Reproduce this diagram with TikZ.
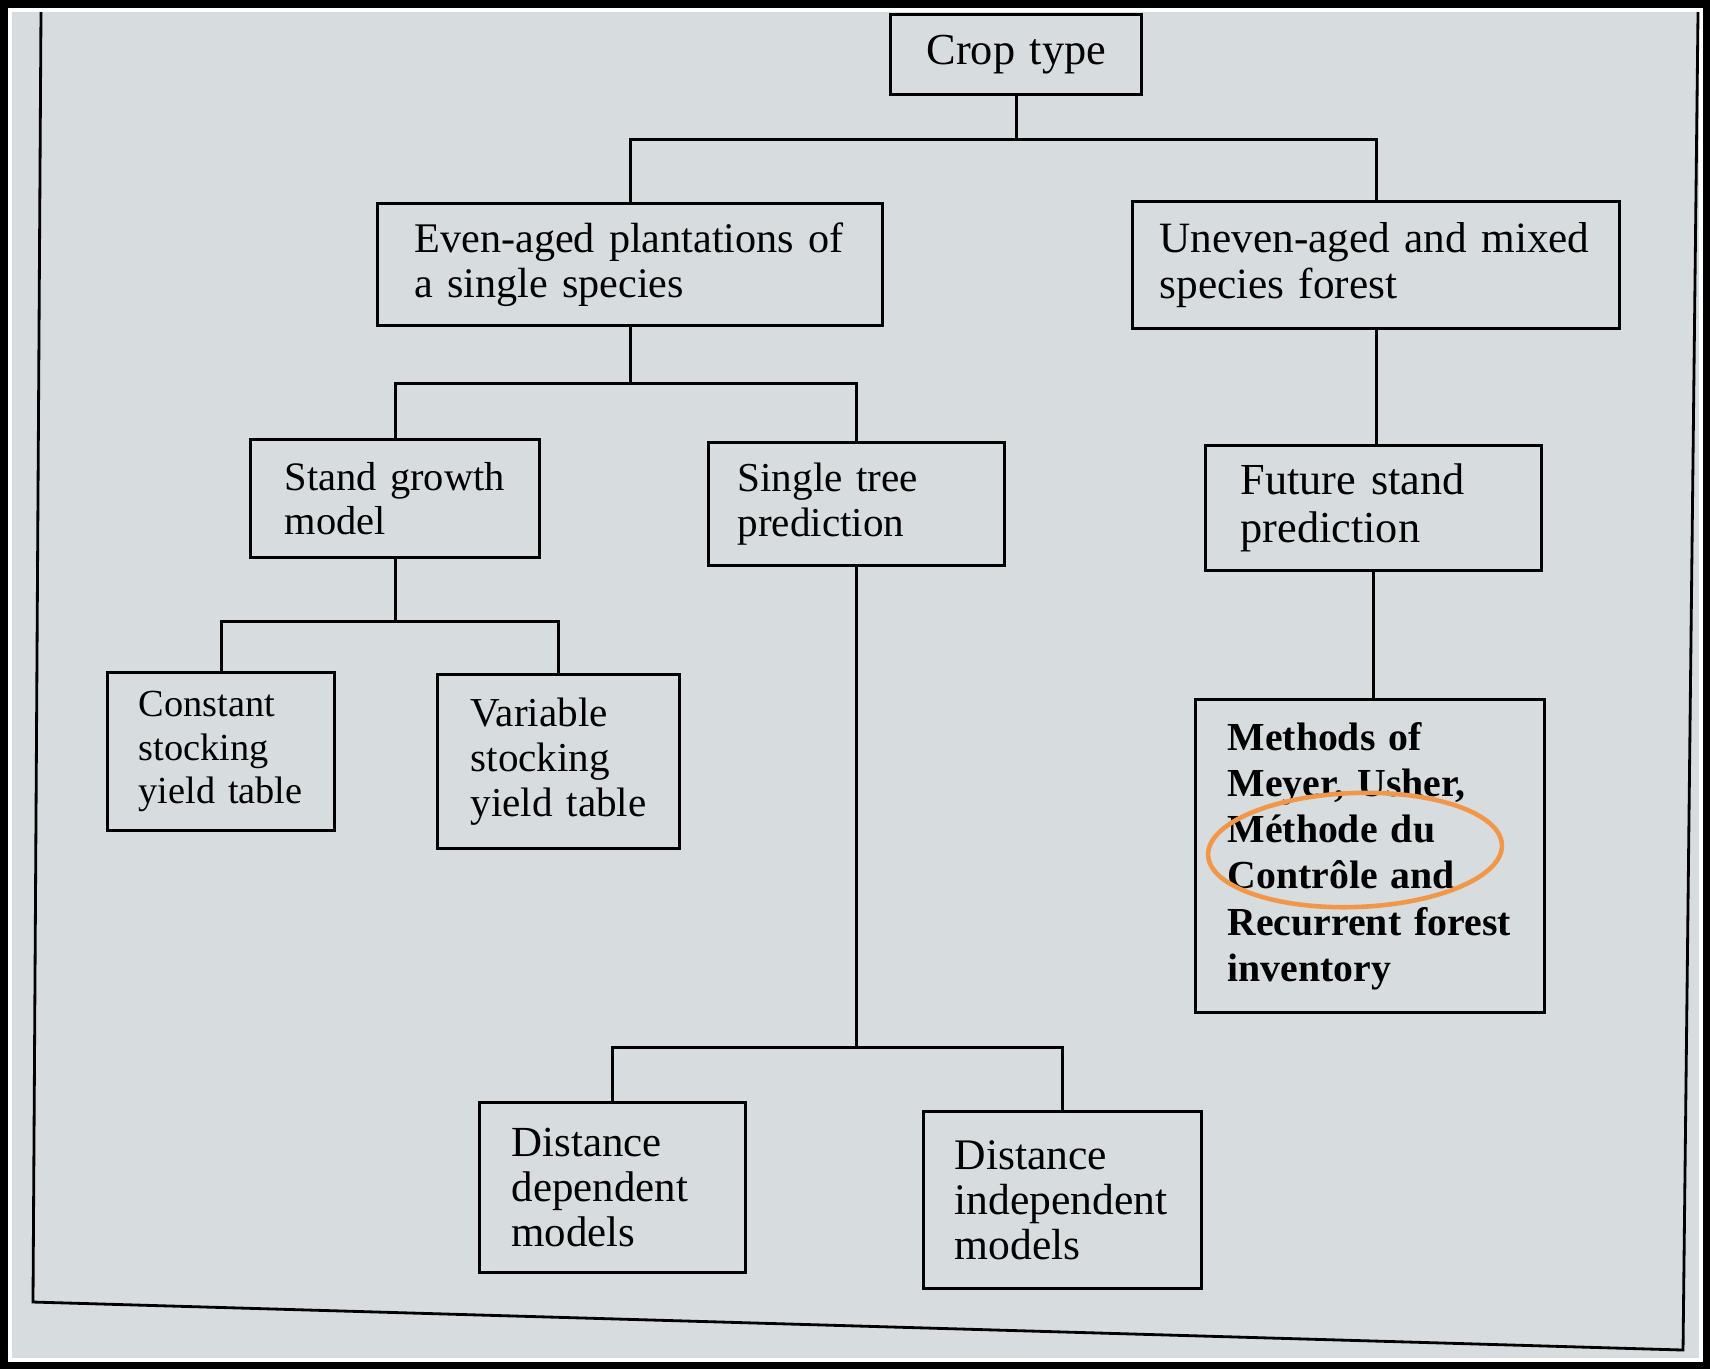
\documentclass[tikz,border=0pt]{standalone}
\usepackage{fontspec}
\setmainfont{Liberation Serif}
\definecolor{paper}{RGB}{215,220,222}
\definecolor{ring}{RGB}{242,150,72}
\hyphenpenalty=10000
\exhyphenpenalty=10000
\tikzset{box/.style 2 args={draw, line width=0.9pt, anchor=north west, align=left,
  inner ysep=0pt, font=\fontsize{#1}{#2}\selectfont},
  link/.style={line width=0.9pt}}

\begin{document}
\begin{tikzpicture}[x=0.01cm,y=-0.01cm]
% photo border and page
\fill [black] (0,0) rectangle (1710,1369);
\fill [white] (8,8) rectangle (1703,1362);
\fill [paper] (12,12) rectangle (1699,1358);
\draw [line width=0.8pt] (41,12) -- (33,1302) -- (1683,1350) -- (1698,12);

% boxes
\node [box={12.6}{13.5}, inner xsep=0.36cm, minimum height=0.80cm, text width=1.79cm] (crop) at (889,13) {Crop~type};
\node [box={12}{12.6}, inner xsep=0.37cm, minimum height=1.22cm, text width=4.31cm] (even) at (376,202) {Even-aged~plantations~of\\a~single~species};
\node [box={12.3}{13.2}, inner xsep=0.27cm, minimum height=1.27cm, text width=4.33cm] (uneven) at (1131,200) {Uneven-aged~and~mixed\\species~forest};
\node [box={11.5}{12.3}, inner xsep=0.34cm, minimum height=1.18cm, text width=2.21cm] (stand) at (249,438) {Stand~growth\\model};
\node [box={11.7}{13}, inner xsep=0.29cm, minimum height=1.23cm, text width=2.38cm] (single) at (707,441) {Single~tree\\prediction};
\node [box={12.6}{13.6}, inner xsep=0.35cm, minimum height=1.25cm, text width=2.66cm] (future) at (1204,444) {Future~stand\\prediction};
\node [box={10.9}{12.4}, inner xsep=0.31cm, minimum height=1.58cm, text width=1.65cm] (constant) at (106,671) {Constant\\stocking\\yield~table};
\node [box={11.7}{12.8}, inner xsep=0.33cm, minimum height=1.74cm, text width=1.76cm] (variable) at (436,673) {Variable\\stocking\\yield~table};
\node [box={11.3}{13.1}, inner xsep=0.32cm, minimum height=3.13cm, text width=2.85cm] (methods) at (1194,698)
  {\bfseries Methods~of\\Meyer,~Usher,\\Méthode~du\\Contrôle~and\\Recurrent~forest\\inventory};
\node [box={12.2}{12.8}, inner xsep=0.32cm, minimum height=1.70cm, text width=2.02cm] (distdep) at (478,1101) {Distance\\dependent\\models};
\node [box={12.4}{12.9}, inner xsep=0.31cm, minimum height=1.77cm, text width=2.16cm] (distind) at (922,1110) {Distance\\independent\\models};

% connectors
\path (crop.south) ++(0,43) coordinate (fork1);
\path (even.south) ++(0,56) coordinate (fork2);
\path (stand.south) ++(0,62) coordinate (fork3);
\path (single.south) ++(0,480) coordinate (fork4);
\draw [link] (crop.south) -- (fork1);
\draw [link] (even.north) |- (fork1) -| (uneven.north);
\draw [link] (even.south) -- (fork2);
\draw [link] (stand.north) |- (fork2) -| (single.north);
\draw [link] (stand.south) -- (fork3);
\draw [link] (constant.north) |- (fork3) -| (variable.north);
\draw [link] (single.south) -- (fork4);
\draw [link] (distdep.north) |- (fork4) -| (distind.north);
\draw [link] (uneven.south) -- (uneven.south |- future.north);
\draw [link] (future.south) -- (future.south |- methods.north);

% highlight
\draw [ring, line width=1.3pt, rotate around={2:(1355,850)}] (1355,850) ellipse [x radius=147, y radius=57];
\end{tikzpicture}
\end{document}
